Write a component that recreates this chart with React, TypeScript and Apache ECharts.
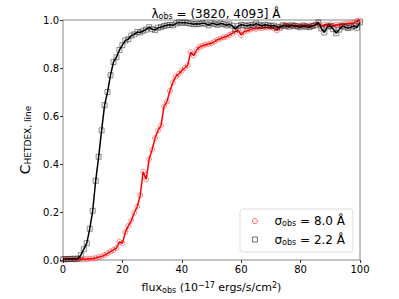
import React, { useEffect, useRef } from "react";
import * as echarts from "echarts";

const flux: number[] = Array.from({ length: 101 }, (_, i) => i);

const cBlack: number[] = [
  0.003, 0.004, 0.004, 0.005, 0.005, 0.006, 0.02, 0.045, 0.07, 0.13,
  0.205, 0.33, 0.43, 0.54, 0.645, 0.7, 0.77, 0.825, 0.845, 0.875,
  0.895, 0.915, 0.92, 0.935, 0.94, 0.95, 0.948, 0.955, 0.96, 0.97,
  0.962, 0.958, 0.968, 0.97, 0.975, 0.978, 0.98, 0.978, 0.985, 0.99,
  0.988, 0.99, 0.987, 0.985, 0.982, 0.984, 0.983, 0.987, 0.985, 0.978,
  0.986, 0.984, 0.98, 0.985, 0.983, 0.978, 0.982, 0.976, 0.962, 0.975,
  0.98, 0.978, 0.975, 0.98, 0.978, 0.985, 0.98, 0.976, 0.98, 0.978,
  0.975, 0.977, 0.972, 0.968, 0.978, 0.975, 0.972, 0.978, 0.975, 0.973,
  0.97, 0.976, 0.972, 0.97, 0.975, 0.978, 0.99, 0.965, 0.948, 0.972,
  0.975, 0.962, 0.945, 0.96, 0.975, 0.97, 0.966, 0.97, 0.975, 0.968,
  0.99,
];

const cRed: number[] = [
  0.002, 0.002, 0.003, 0.003, 0.002, 0.003, 0.003, 0.004, 0.004, 0.005,
  0.006, 0.008, 0.012, 0.015, 0.02, 0.028, 0.035, 0.042, 0.05, 0.076,
  0.07, 0.116, 0.142, 0.164, 0.197, 0.222, 0.27, 0.368, 0.336, 0.42,
  0.46, 0.508, 0.54, 0.56, 0.64, 0.66, 0.705, 0.74, 0.765, 0.775,
  0.79, 0.8, 0.812, 0.866, 0.852, 0.875, 0.888, 0.893, 0.897, 0.9,
  0.903, 0.91, 0.918, 0.922, 0.928, 0.93, 0.938, 0.944, 0.952, 0.958,
  0.937, 0.952, 0.955, 0.96, 0.965, 0.963, 0.968, 0.966, 0.97, 0.968,
  0.97, 0.965, 0.957, 0.972, 0.975, 0.979, 0.978, 0.976, 0.977, 0.975,
  0.976, 0.978, 0.975, 0.977, 0.976, 0.98, 0.986, 0.972, 0.98, 0.978,
  0.982, 0.975, 0.98, 0.979, 0.982, 0.983, 0.985, 0.986, 0.989, 0.996,
  0.998,
];

const xTicks = { min: 0, max: 100, interval: 20 };
const yTicks = { min: 0, max: 1, interval: 0.2 };

const FONT = "DejaVu Sans";

export default function App() {
  const ref = useRef<HTMLDivElement>(null);
  useEffect(() => {
    if (!ref.current) return;
    const chart = echarts.init(ref.current, undefined, { renderer: "svg" });
    const sub = { fontSize: 8, fontFamily: FONT, color: "#000", fontWeight: "normal", verticalAlign: "bottom", padding: [5, 0, 0, 0] };
    const sup = { fontSize: 8, fontFamily: FONT, color: "#000", fontWeight: "normal", verticalAlign: "top", padding: [0, 0, 5, 0] };
    chart.setOption({
      animation: false,
      backgroundColor: "#fff",
      title: {
        text: "{a|λ}{s|obs}{a| = (3820, 4093] Å}",
        left: 211,
        textAlign: "center",
        top: 2,
        textStyle: {
          fontWeight: "normal",
          rich: {
            a: { fontSize: 12, fontFamily: FONT, color: "#000", fontWeight: "normal" },
            s: sub,
          },
        },
      },
      grid: {
        left: 63,
        right: 39,
        top: 20,
        bottom: 39,
        show: true,
        borderColor: "#888",
        borderWidth: 1,
        backgroundColor: "transparent",
      },
      xAxis: {
        type: "value",
        min: xTicks.min,
        max: xTicks.max,
        interval: xTicks.interval,
        name: "{a|flux}{s|obs}{a| (10}{p|−17}{a| ergs/s/cm}{p|2}{a|)}",
        nameLocation: "middle",
        nameGap: 21,
        nameTextStyle: {
          rich: {
            a: { fontSize: 11, fontFamily: FONT, color: "#000" },
            s: sub,
            p: sup,
          },
        },
        splitLine: { show: false },
        axisLine: { show: false },
        axisTick: { show: true, inside: false, length: 3, lineStyle: { color: "#333" } },
        axisLabel: { fontSize: 10, fontFamily: FONT, color: "#000", margin: 4 },
      },
      yAxis: {
        type: "value",
        min: yTicks.min,
        max: yTicks.max,
        interval: yTicks.interval,
        name: "{a|C}{s|HETDEX, line}",
        nameLocation: "middle",
        nameGap: 27,
        nameRotate: 90,
        nameTextStyle: {
          rich: {
            a: { fontSize: 14, fontFamily: FONT, color: "#000" },
            s: { fontSize: 9, fontFamily: FONT, color: "#000", verticalAlign: "bottom", padding: [6, 0, 0, 0] },
          },
        },
        splitLine: { show: false },
        axisLine: { show: false },
        axisTick: { show: true, inside: false, length: 3, lineStyle: { color: "#333" } },
        axisLabel: {
          fontSize: 10,
          fontFamily: FONT,
          color: "#000",
          margin: 4,
          formatter: (v: number) => v.toFixed(1),
        },
      },
      legend: {
        orient: "vertical",
        right: 46,
        bottom: 47,
        padding: [6, 8, 6, 12],
        itemGap: 6,
        itemWidth: 5,
        itemHeight: 5,
        backgroundColor: "#fff",
        borderColor: "#ddd",
        borderWidth: 1,
        borderRadius: 3,
        data: [
          { name: "s8", icon: "circle", itemStyle: { color: "transparent", borderColor: "rgba(255,0,0,0.6)", borderWidth: 1 } },
          { name: "s2", icon: "rect", itemStyle: { color: "transparent", borderColor: "rgba(0,0,0,0.55)", borderWidth: 1 } },
        ],
        formatter: (name: string) =>
          name === "s8" ? "{a|σ}{s|obs}{a| = 8.0 Å}" : "{a|σ}{s|obs}{a| = 2.2 Å}",
        textStyle: {
          padding: [0, 0, 0, 12],
          rich: {
            a: { fontSize: 12, fontFamily: FONT, color: "#000" },
            s: sub,
          },
        },
      },
      series: [
        {
          name: "s8",
          type: "line",
          data: flux.map((x, i) => [x, cRed[i]]),
          symbol: "circle",
          symbolSize: 5,
          showAllSymbol: true,
          lineStyle: { color: "#ff0000", width: 1.5 },
          itemStyle: { color: "transparent", borderColor: "rgba(255,0,0,0.45)", borderWidth: 1 },
          z: 2,
        },
        {
          name: "s2",
          type: "line",
          data: flux.map((x, i) => [x, cBlack[i]]),
          symbol: "rect",
          symbolSize: 5,
          showAllSymbol: true,
          lineStyle: { color: "#000", width: 1.5 },
          itemStyle: { color: "transparent", borderColor: "rgba(0,0,0,0.45)", borderWidth: 1 },
          z: 3,
        },
      ],
    });
    return () => chart.dispose();
  }, []);
  return <div ref={ref} style={{ width: 399, height: 299, position: "absolute", left: 0, top: 0 }} />;
}
